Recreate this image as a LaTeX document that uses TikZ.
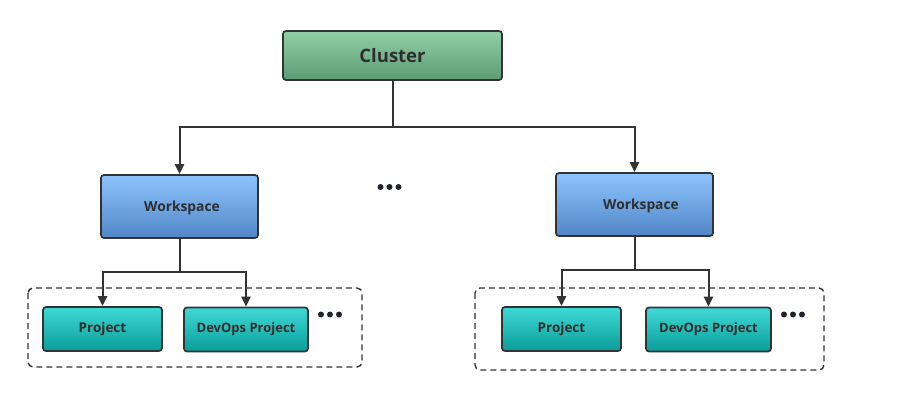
\documentclass[tikz,border=0pt]{standalone}
\usepackage{fontspec}
\setmainfont{Open Sans}
\usetikzlibrary{arrows.meta,calc}
\definecolor{edgecol}{HTML}{333333}
\definecolor{txtcol}{HTML}{2E2E2E}
\definecolor{dotcol}{HTML}{1F2430}
\tikzset{
  box/.style={draw=edgecol, line width=1.7pt, rounded corners=3pt, align=center,
    text=txtcol, font=\bfseries, inner sep=0pt},
  clusterbox/.style={box, minimum width=219pt, minimum height=49pt,
    top color={rgb,255:red,144;green,206;blue,166},
    bottom color={rgb,255:red,94;green,156;blue,117}, font=\bfseries\fontsize{18.5}{20}\selectfont},
  wsbox/.style={box, minimum width=157pt, minimum height=63pt, text depth=0pt,
    top color={rgb,255:red,141;green,196;blue,253}, bottom color={rgb,255:red,80;green,134;blue,198},
    font=\bfseries\fontsize{13.8}{15}\selectfont},
  projbox/.style={box, minimum height=44pt,
    top color={rgb,255:red,62;green,218;blue,214}, bottom color={rgb,255:red,10;green,156;blue,153}},
  projtxt/.style={font=\bfseries\fontsize{13.5}{15}\selectfont},
  devtxt/.style={font=\bfseries\fontsize{13}{15}\selectfont},
  link/.style={draw=edgecol, line width=2pt},
  arr/.style={link, -{Triangle[length=10pt, width=9pt]}},
  group/.style={draw=edgecol, line width=1.4pt, dashed, dash pattern=on 6pt off 4pt, rounded corners=5pt},
  dot/.style={fill=dotcol}
}
% three dots in a row, centred on a named coordinate
\newcommand{\threedots}[1]{%
  \fill[dot] ($(#1)+(-9,0)$) circle (3pt);
  \fill[dot] (#1) circle (3pt);
  \fill[dot] ($(#1)+(9,0)$) circle (3pt);}
\begin{document}
\begin{tikzpicture}[x=1pt, y=-1pt]
  \useasboundingbox (0,0) rectangle (898,393);
  % dashed groups
  \draw[group] (28,288) rectangle (362,367);
  \draw[group] (475,288) rectangle (824,370);
  % boxes
  \node[clusterbox] (cluster) at (392.5,55.5) {Cluster};
  \node[wsbox] (wsL) at (179.5,206.5) {\hspace*{5pt}Workspace};
  \node[wsbox] (wsR) at (634.5,204.5) {\hspace*{13pt}Workspace};
  \node[projbox, projtxt, minimum width=119pt] (projL) at (102.5,329) {Project};
  \node[projbox, devtxt, minimum width=124pt] (devL) at (246,329.5) {DevOps Project};
  \node[projbox, projtxt, minimum width=119pt] (projR) at (561.5,329) {Project};
  \node[projbox, devtxt, minimum width=125pt] (devR) at (708.5,329.5) {DevOps Project};
  % ellipses
  \coordinate (moreTop) at (389.5,187);
  \coordinate (moreL) at (330,314.5);
  \coordinate (moreR) at (793,314.5);
  \threedots{moreTop}
  \threedots{moreL}
  \threedots{moreR}
  % connectors
  \coordinate (cJ) at (392.5,127);
  \draw[link] (cluster.south) -- (cJ);
  \draw[arr] (cJ) -| (wsL.north);
  \draw[arr] (cJ) -| (wsR.north);
  \coordinate (lJ) at (179.5,272);
  \draw[link] (wsL.south) -- (lJ);
  \draw[arr] (lJ) -| (projL.north);
  \draw[arr] (lJ) -| (devL.north);
  \coordinate (rJ) at (634.5,270);
  \draw[link] (wsR.south) -- (rJ);
  \draw[arr] (rJ) -| (projR.north);
  \draw[arr] (rJ) -| (devR.north);
\end{tikzpicture}
\end{document}
